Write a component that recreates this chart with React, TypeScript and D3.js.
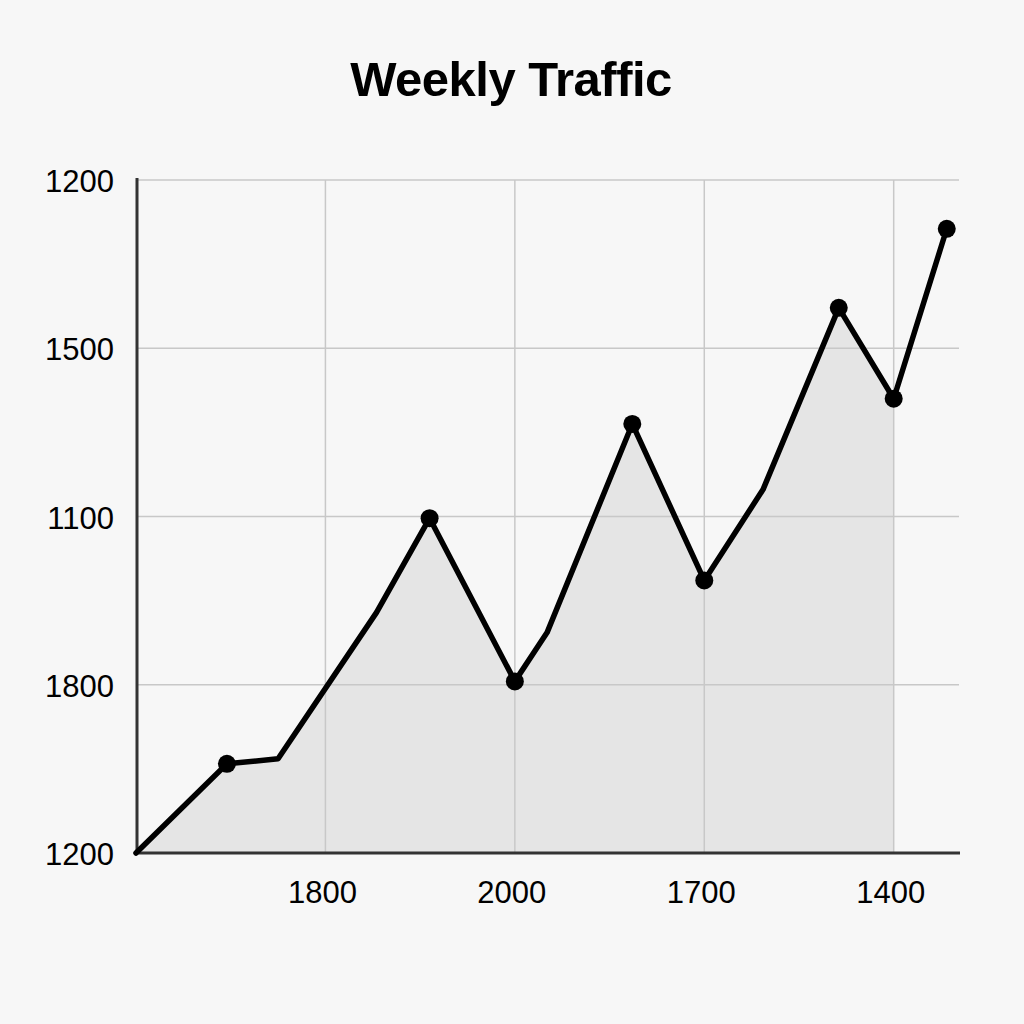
import React from "react";
import * as d3 from "d3";

// tick labels exactly as printed on the chart
const yTickLabels = ["1200", "1800", "1100", "1500", "1200"];
const xTickLabels = ["1800", "2000", "1700", "1400"];

// series, in tick-index units
const weekPos = [0, 0.48, 0.75, 1.27, 1.55, 2.0, 2.17, 2.62, 3.0, 3.31, 3.71, 4.0, 4.28];
const traffic = [0, 0.53, 0.56, 1.43, 1.99, 1.02, 1.31, 2.55, 1.62, 2.16, 3.24, 2.7, 3.71];
const hasMarker = [false, true, false, false, true, true, false, true, true, false, true, true, true];
// shaded area stops at the last gridline
const areaCount = 12;

const width = 1024;
const height = 1024;
const left = 137;
const right = 959;
const top = 180;
const bottom = 853;

export default function App() {
  const x = d3.scaleLinear().domain([0, 4.35]).range([136, 960]);
  const y = d3.scaleLinear().domain([0, 4]).range([bottom, top]);

  const points = weekPos.map((w, i) => ({ w, v: traffic[i], m: hasMarker[i] }));

  const line = d3
    .line<{ w: number; v: number }>()
    .x((d) => x(d.w))
    .y((d) => y(d.v));

  const area = d3
    .area<{ w: number; v: number }>()
    .x((d) => x(d.w))
    .y0(y(0))
    .y1((d) => y(d.v));

  const font = "'Liberation Sans', Arial, Helvetica, sans-serif";

  return (
    <svg
      width={width}
      height={height}
      style={{ position: "absolute", left: 0, top: 0, background: "#f7f7f7" }}
    >
      <rect width={width} height={height} fill="#f7f7f7" />
      <text
        x={511}
        y={96}
        textAnchor="middle"
        fontFamily={font}
        fontWeight="bold"
        fontSize={49}
        letterSpacing={-0.5}
        fill="#000"
      >
        Weekly Traffic
      </text>

      {/* area under the line */}
      <path d={area(points.slice(0, areaCount)) || ""} fill="#e5e5e5" />

      {/* horizontal gridlines */}
      {yTickLabels.map((_, i) => (
        <line
          key={"h" + i}
          x1={left}
          x2={right}
          y1={y(i)}
          y2={y(i)}
          stroke="#c8c8c8"
          strokeWidth={1.5}
        />
      ))}
      {/* vertical gridlines */}
      {xTickLabels.map((_, i) => (
        <line
          key={"v" + i}
          x1={x(i + 1)}
          x2={x(i + 1)}
          y1={top}
          y2={bottom}
          stroke="#c8c8c8"
          strokeWidth={1.5}
        />
      ))}

      {/* axes */}
      <line x1={left} x2={left} y1={top - 2} y2={bottom} stroke="#333" strokeWidth={3} />
      <line x1={left} x2={right + 1} y1={bottom} y2={bottom} stroke="#333" strokeWidth={3} />

      {yTickLabels.map((t, i) => (
        <text
          key={"yl" + i}
          x={114}
          y={y(i) + 12}
          textAnchor="end"
          fontFamily={font}
          fontSize={31}
          fill="#000"
        >
          {t}
        </text>
      ))}
      {xTickLabels.map((t, i) => (
        <text
          key={"xl" + i}
          x={x(i + 1) - 3}
          y={903}
          textAnchor="middle"
          fontFamily={font}
          fontSize={31}
          fill="#000"
        >
          {t}
        </text>
      ))}

      <path
        d={line(points) || ""}
        fill="none"
        stroke="#000"
        strokeWidth={5.5}
        strokeLinejoin="round"
        strokeLinecap="round"
      />
      {points
        .filter((p) => p.m)
        .map((p, i) => (
          <circle key={"m" + i} cx={x(p.w)} cy={y(p.v)} r={9} fill="#000" />
        ))}
    </svg>
  );
}
